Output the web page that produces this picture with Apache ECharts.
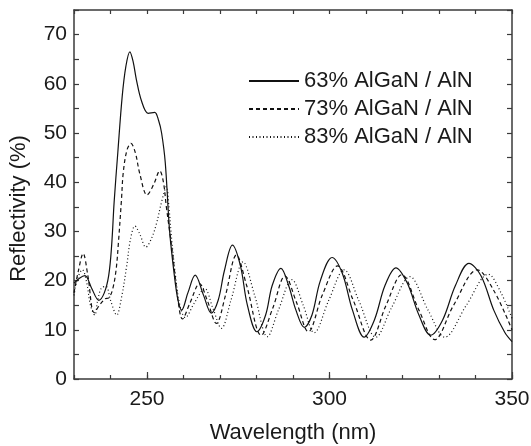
<!DOCTYPE html>
<html>
<head>
<meta charset="utf-8">
<script src="https://cdn.jsdelivr.net/npm/echarts@6/dist/echarts.min.js"></script>
<style>
  html, body { margin: 0; padding: 0; background: #fff; }
  #chart { width: 531px; height: 446px; }
</style>
</head>
<body>
<div id="chart"></div>
<script>
// [wavelength nm, reflectivity %]
var al63 = [
  [230, 19.5], [231.5, 20.5], [233, 21.0], [234.8, 18.5], [236.8, 16.0], [238.3, 17.5],
  [239.5, 21], [240.3, 27], [241, 36], [242, 46], [243.2, 57.4], [244.2, 63.5],
  [245.3, 66.5], [246.2, 64.5], [247.1, 60.8], [248.5, 56.5], [250.3, 54.0], [252.1, 54.2],
  [253.2, 52.5], [254, 50.0], [255, 44], [256.2, 30], [257.5, 21], [258.5, 16],
  [259.5, 14.0], [261.2, 17.5], [263.2, 21.1], [265.5, 17], [267.6, 13.4], [269.5, 16],
  [271.2, 22], [273.4, 27.2], [275.6, 23], [277.5, 15], [280.1, 9.6], [282.5, 13],
  [284.3, 19], [286.7, 22.5], [288.8, 19], [290.8, 14], [293.1, 10.5], [295.2, 13],
  [297.5, 20], [300.7, 24.7], [303.5, 21.5], [306.3, 14], [309.5, 8.5], [312.3, 12],
  [315.2, 19], [318.2, 22.6], [321.3, 19.5], [324.5, 13], [327.7, 8.9], [331, 12],
  [334.5, 19], [338.2, 23.5], [341.5, 21], [345, 14], [348, 9.5], [350, 7.6]
];
var al73 = [
  [230, 17.5], [231.2, 22], [232.5, 25.5], [233.8, 21], [235.5, 13.5], [237, 15],
  [238.5, 16.3], [239.5, 16.5], [240.5, 18], [241.5, 22], [242.2, 28], [243, 36.4],
  [243.5, 42], [244.5, 46.5], [245.6, 47.9], [246.8, 46], [248, 41.8], [250, 37.4],
  [251.8, 39.5], [253.5, 42.3], [254.5, 40], [255.3, 35], [256.2, 30], [257.1, 24.9],
  [258.5, 16], [259.7, 12.2], [261.8, 15.5], [264.4, 19.4], [266.5, 16], [269, 11.3],
  [271.5, 17], [274.5, 25.2], [277.3, 19], [281.3, 8.9], [284.5, 14.5], [287.8, 20.9],
  [291, 15.5], [294.2, 9.6], [298, 17], [302.2, 23], [306.5, 16], [311.3, 7.9],
  [315.5, 15], [319.8, 21.2], [324.5, 14], [328.8, 8.0], [334, 15], [340.5, 22.2],
  [345, 18], [350, 10]
];
var al83 = [
  [230, 17], [231, 20.5], [232.3, 22.2], [233.5, 19.5], [234.5, 15], [235.7, 13.0],
  [236.5, 16], [237.5, 18.5], [238.8, 18.8], [240, 16], [241.7, 13.0], [243, 16.5],
  [244.4, 22.8], [245.5, 28.5], [246.7, 31.1], [248, 29.5], [249.7, 26.8], [251.2, 28.5],
  [252.6, 31.6], [254, 36], [255.3, 39.1], [256, 35], [256.8, 28], [257.8, 21],
  [259, 15], [260.5, 12.5], [263, 15.5], [265.8, 18.4], [268, 14.5], [270.4, 10.3],
  [273, 16], [276.3, 23.8], [279.5, 17], [283, 8.6], [286, 14], [289.7, 20.2],
  [292.8, 15], [295.8, 9.4], [299.8, 16], [304, 22.2], [308, 16], [312.7, 8.5],
  [317, 14.5], [322, 20.8], [327, 14], [331.6, 8.5], [337.5, 15], [343.5, 21.3],
  [347, 17.5], [350, 12.3]
];
var names = ['63% AlGaN / AlN', '73% AlGaN / AlN', '83% AlGaN / AlN'];
var xLabels = [250, 300, 350];
var yLabels = [0, 10, 20, 30, 40, 50, 60, 70];

var txt = '#1a1a1a';
var ax = '#3a3a3a';
var font = 'Liberation Sans, Arial, sans-serif';

var chart = echarts.init(document.getElementById('chart'));
var option = {
  animation: false,
  backgroundColor: '#fff',
  grid: { left: 74, right: 19, top: 10, bottom: 67, containLabel: false, outerBoundsMode: 'none' },
  legend: {
    data: names,
    orient: 'vertical',
    left: 248,
    top: 70,
    padding: 0,
    itemWidth: 50,
    itemHeight: 14,
    itemGap: 6,
    itemStyle: { opacity: 0, borderWidth: 0 }, // line only, no marker
    textStyle: { fontSize: 22, lineHeight: 22, color: txt, fontFamily: font }
  },
  xAxis: [{
    type: 'value', min: 230, max: 350, interval: 10,
    name: 'Wavelength (nm)', nameLocation: 'middle', nameGap: 43,
    nameTextStyle: { fontSize: 22, color: txt, fontFamily: font },
    axisLine: { show: true, lineStyle: { color: ax, width: 1.5 } },
    axisTick: { show: true, inside: true, length: 7, customValues: xLabels, lineStyle: { color: ax, width: 1.2 } },
    axisLabel: { customValues: xLabels, margin: 10, fontSize: 21, color: txt, fontFamily: font },
    splitLine: { show: false }
  }, {
    // minor ticks every 10 nm along the bottom
    type: 'value', min: 230, max: 350, interval: 10, position: 'bottom',
    axisLine: { show: false },
    axisTick: { show: true, inside: true, length: 4, lineStyle: { color: ax, width: 1.2 } },
    axisLabel: { show: false }, splitLine: { show: false }
  }, {
    type: 'value', min: 230, max: 350, interval: 10, position: 'top',
    axisLine: { show: true, lineStyle: { color: ax, width: 1.5 } },
    axisTick: { show: true, inside: true, length: 4, lineStyle: { color: ax, width: 1.2 } },
    axisLabel: { show: false }, splitLine: { show: false }
  }],
  yAxis: [{
    type: 'value', min: 0, max: 75, interval: 10,
    name: 'Reflectivity (%)', nameLocation: 'middle', nameGap: 44, nameRotate: 90,
    nameTextStyle: { fontSize: 22, color: txt, fontFamily: font, padding: [0, 28, 0, 0] },
    axisLine: { show: true, lineStyle: { color: ax, width: 1.5 } },
    axisTick: { show: true, inside: true, length: 5, lineStyle: { color: ax, width: 1.2 } },
    minorTick: { show: true, splitNumber: 2, length: 5, lineStyle: { color: ax, width: 1.2 } },
    axisLabel: { customValues: yLabels, margin: 7, fontSize: 21, color: txt, fontFamily: font },
    splitLine: { show: false }, minorSplitLine: { show: false }
  }, {
    type: 'value', min: 0, max: 75, interval: 5, position: 'right',
    axisLine: { show: true, lineStyle: { color: ax, width: 1.5 } },
    axisTick: { show: true, inside: true, length: 5, lineStyle: { color: ax, width: 1.2 } },
    axisLabel: { show: false }, splitLine: { show: false }
  }],
  series: [{
    name: names[0], type: 'line', data: al63, symbol: 'none', smooth: 0.35,
    lineStyle: { color: '#111', width: 1.2, type: 'solid' }, itemStyle: { color: '#111' }
  }, {
    name: names[1], type: 'line', data: al73, symbol: 'none', smooth: 0.35,
    lineStyle: { color: '#111', width: 1.2, type: [4, 3] }, itemStyle: { color: '#111' }
  }, {
    name: names[2], type: 'line', data: al83, symbol: 'none', smooth: 0.35,
    lineStyle: { color: '#111', width: 1.2, type: [1, 2.5] }, itemStyle: { color: '#111' }
  }]
};
chart.setOption(option);
</script>
</body>
</html>
